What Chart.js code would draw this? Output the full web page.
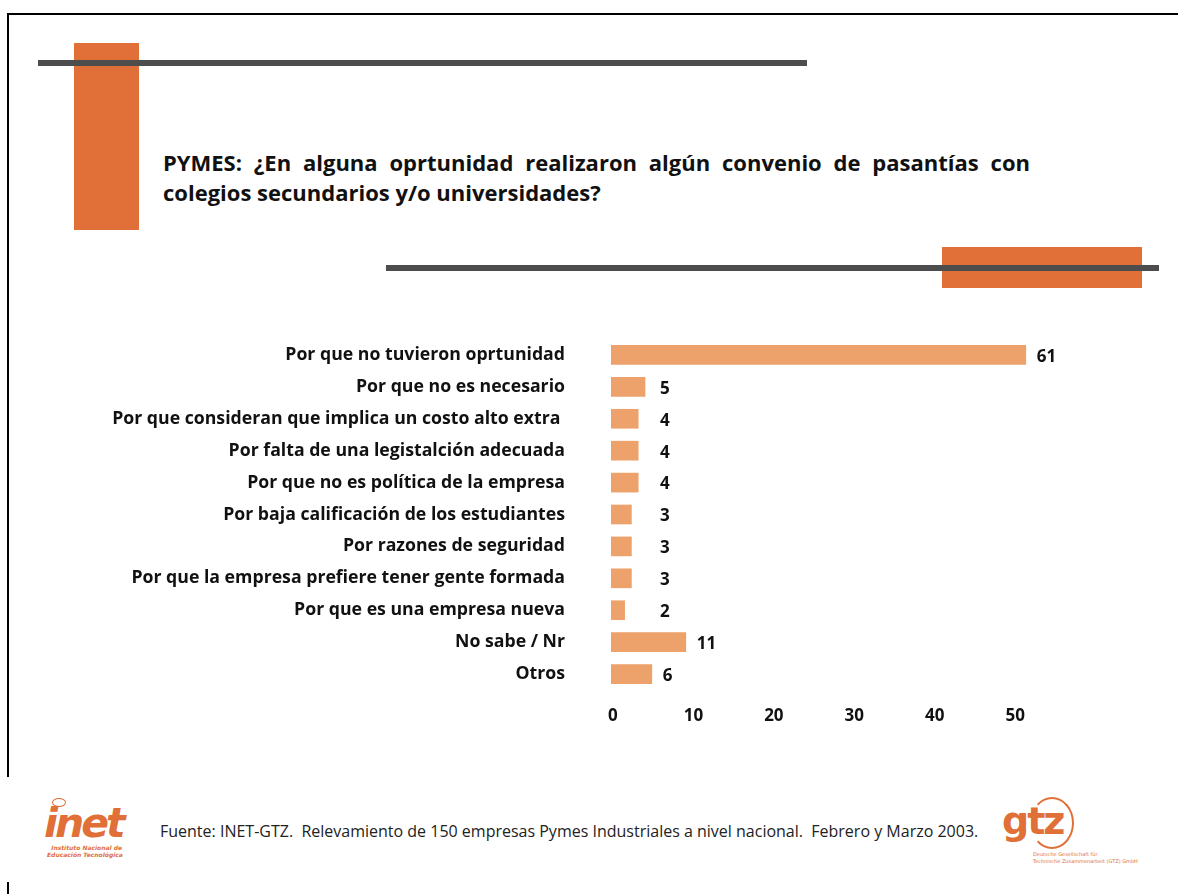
<!DOCTYPE html>
<html>
<head>
<meta charset="utf-8">
<script src="https://cdn.jsdelivr.net/npm/chart.js@4.4.1/dist/chart.umd.min.js"></script>
<style>
  html, body { margin:0; padding:0; background:#fff; }
  body { width:1178px; height:894px; position:relative; overflow:hidden; font-family:"Open Sans", sans-serif; }
  .abs { position:absolute; }
  #title { left:163px; top:147px; width:867px; font-weight:700; font-size:22px; line-height:30px; color:#111; text-align:justify; text-align-last:left; }
  #foot { left:160px; top:820px; font-size:16px; line-height:22px; color:#222; white-space:pre; }
</style>
</head>
<body>
<!-- frame -->
<div class="abs" style="left:7px;top:13px;width:1171px;height:2px;background:#000"></div>
<div class="abs" style="left:7px;top:13px;width:2px;height:764px;background:#000"></div>
<div class="abs" style="left:7px;top:882px;width:2px;height:12px;background:#000"></div>
<!-- decorations -->
<div class="abs" style="left:74px;top:43px;width:65px;height:187px;background:#E07038"></div>
<div class="abs" style="left:38px;top:60px;width:769px;height:6px;background:#4D4D4D"></div>
<div class="abs" style="left:942px;top:247px;width:200px;height:41px;background:#E07038"></div>
<div class="abs" style="left:386px;top:265px;width:773px;height:6px;background:#4D4D4D"></div>

<div id="title" class="abs">PYMES: ¿En alguna oprtunidad realizaron algún convenio de pasantías con colegios secundarios y/o universidades?</div>

<canvas id="c" class="abs" width="1178" height="450" style="left:0;top:300px"></canvas>

<!-- footer -->
<div class="abs" style="left:44px;top:800px;width:90px;height:60px;">
  <div class="abs" style="left:8px;top:-2px;width:12px;height:7px;border:1px solid #E07038;border-radius:50%"></div>
  <div class="abs" style="left:0;top:3px;font:italic 900 41px 'DejaVu Sans';color:#E07038;letter-spacing:-3px;line-height:40px">inet</div>
  <div class="abs" style="left:3px;top:44px;font:italic 700 6px 'DejaVu Sans';color:#E07038;line-height:7px;white-space:nowrap">&nbsp;&nbsp;Instituto Nacional de<br>Educación Tecnológica</div>
</div>
<div id="foot" class="abs">Fuente: INET-GTZ.  Relevamiento de 150 empresas Pymes Industriales a nivel nacional.  Febrero y Marzo 2003.</div>
<div class="abs" style="left:1000px;top:795px;width:150px;height:75px;">
  <div class="abs" style="left:30px;top:2px;width:40px;height:48px;border:2px solid #E07038;border-radius:50%;border-left-color:transparent"></div>
  <div class="abs" style="left:2px;top:4px;font:700 38px 'DejaVu Sans';color:#E07038;letter-spacing:-2px;line-height:44px">gtz</div>
  <div class="abs" style="left:33px;top:56px;font:400 5px 'DejaVu Sans';color:#E07038;line-height:7px;white-space:nowrap">Deutsche Gesellschaft für<br>Technische Zusammenarbeit (GTZ) GmbH</div>
</div>

<script>
const categories = [
  "Por que no tuvieron oprtunidad",
  "Por que no es necesario",
  "Por que consideran que implica un costo alto extra ",
  "Por falta de una legistalción adecuada",
  "Por que no es política de la empresa",
  "Por baja calificación de los estudiantes",
  "Por razones de seguridad",
  "Por que la empresa prefiere tener gente formada",
  "Por que es una empresa nueva",
  "No sabe / Nr",
  "Otros"
];
const values = [61, 5, 4, 4, 4, 3, 3, 3, 2, 11, 6];
const tickLabels = [0, 10, 20, 30, 40, 50];

const FONT = '"Open Sans", sans-serif';

const valueLabels = {
  id: 'valueLabels',
  afterDatasetsDraw(chart) {
    const ctx = chart.ctx;
    const meta = chart.getDatasetMeta(0);
    ctx.save();
    ctx.font = '700 17px ' + FONT;
    ctx.fillStyle = '#111';
    ctx.textAlign = 'left';
    ctx.textBaseline = 'middle';
    meta.data.forEach((bar, i) => {
      const x = Math.max(bar.x + 11, bar.base + 49);
      ctx.fillText(String(values[i]), x, bar.y + 2);
    });
    ctx.restore();
  }
};

new Chart(document.getElementById('c'), {
  type: 'bar',
  data: {
    labels: categories,
    datasets: [{
      data: values,
      backgroundColor: '#EDA16B',
      borderWidth: 0,
      barThickness: 19
    }]
  },
  plugins: [valueLabels],
  options: {
    indexAxis: 'y',
    responsive: false,
    animation: false,
    devicePixelRatio: 1,
    layout: { padding: { top: 39, right: 91, bottom: 0, left: 0 } },
    plugins: { legend: { display: false }, tooltip: { enabled: false }, title: { display: false } },
    scales: {
      x: { type: 'linear', min: 0, max: 70, display: false },
      x2: {
        type: 'linear', position: 'bottom', min: -0.24, max: 58.92,
        grid: { display: false, drawTicks: false },
        border: { display: false },
        afterBuildTicks: s => { s.ticks = tickLabels.map(v => ({ value: v })); },
        afterFit: s => { s.height = 60; s.paddingLeft = 0; s.paddingRight = 0; },
        ticks: { padding: 16, color: '#111', font: { family: FONT, size: 17, weight: '700' }, maxRotation: 0, autoSkip: false }
      },
      y: {
        type: 'category',
        grid: { display: false, drawTicks: false },
        border: { display: false },
        afterFit: s => { s.width = 611; s.paddingTop = 0; s.paddingBottom = 0; },
        ticks: { padding: 46, color: '#111', autoSkip: false, font: { family: FONT, size: 17.7, weight: '700' } }
      }
    }
  }
});
</script>
</body>
</html>
